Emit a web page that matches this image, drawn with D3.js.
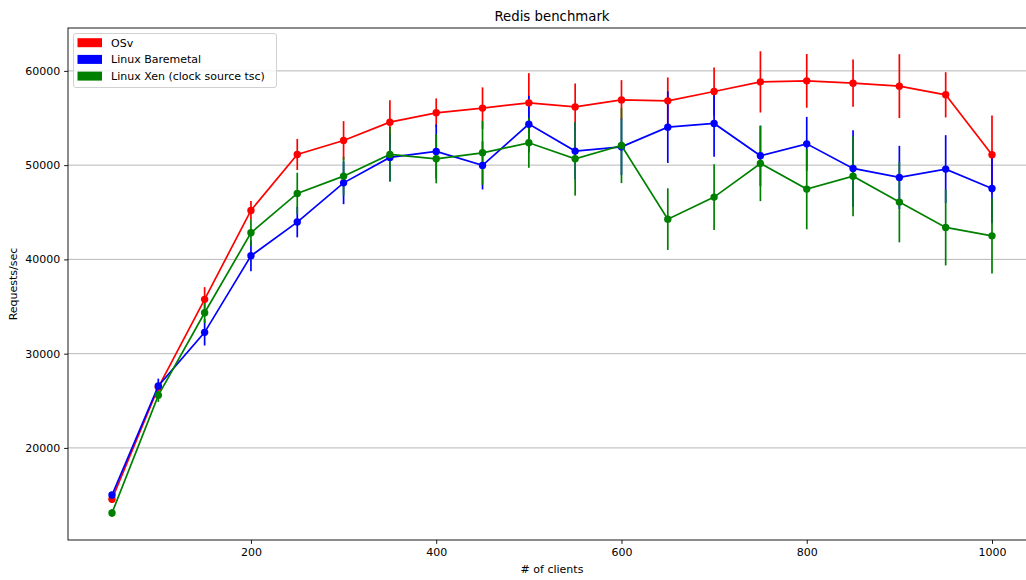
<!DOCTYPE html>
<html>
<head>
<meta charset="utf-8">
<script src="https://cdn.jsdelivr.net/npm/d3@7"></script>
<style>
  body { margin: 0; background: #fff; }
  text { font-family: "DejaVu Sans", sans-serif; fill: #000; }
</style>
</head>
<body>
<div id="d3-container"></div>
<script>
/* CONSTANTS AND GLOBALS */
const width = 1026,
  height = 580,
  margin = { top: 28, bottom: 40, left: 68, right: -10 }; // right spine sits past the picture edge

// x values (# of clients)
const clients = [50, 100, 150, 200, 250, 300, 350, 400, 450, 500,
  550, 600, 650, 700, 750, 800, 850, 900, 950, 1000];

// series means and error bar half-widths (requests/sec)
const osvMean = [14550, 26430, 35760, 45200, 51130, 52620, 54560, 55550, 56050, 56610,
  56180, 56920, 56820, 57810, 58830, 58940, 58700, 58380, 57460, 51100];
const osvErr = [400, 500, 1300, 1000, 1650, 2050, 2330, 1530, 2200, 3150,
  2480, 2100, 2480, 2550, 3250, 2850, 2500, 3390, 2400, 4170];

const bareMean = [15000, 26570, 32260, 40380, 43960, 48120, 50820, 51450, 49970, 54350,
  51490, 51940, 54030, 54420, 50990, 52260, 49650, 48700, 49580, 47530];
const bareErr = [300, 780, 1400, 1630, 1620, 2260, 2500, 2860, 2550, 3000,
  3000, 3000, 3800, 3540, 3200, 2860, 4060, 3350, 3600, 3700];

const xenMean = [13100, 25580, 34340, 42820, 47000, 48830, 51140, 50670, 51310, 52370,
  50670, 52090, 44270, 46610, 50180, 47460, 48830, 46080, 43390, 42500];
const xenErr = [400, 700, 1100, 1400, 2200, 2050, 2900, 2600, 3400, 2650,
  3900, 4000, 3270, 3480, 4000, 4270, 4240, 4270, 4030, 4000];

const seriesNames = ["OSv", "Linux Baremetal", "Linux Xen (clock source tsc)"];
const seriesColors = ["#ff0000", "#0000ff", "#008000"];

const xTicks = [200, 400, 600, 800, 1000];
const yTicks = [20000, 30000, 40000, 50000, 60000];

// build series table from the arrays
const series = [
  { name: seriesNames[0], color: seriesColors[0], mean: osvMean, err: osvErr },
  { name: seriesNames[1], color: seriesColors[1], mean: bareMean, err: bareErr },
  { name: seriesNames[2], color: seriesColors[2], mean: xenMean, err: xenErr }
].map(s => ({
  ...s,
  points: clients.map((c, i) => ({ x: c, y: s.mean[i], e: s.err[i] }))
}));

/* SCALES */
// matplotlib style 5% padding around the data
const xExt = d3.extent(clients);
const xPad = (xExt[1] - xExt[0]) * 0.05;
const allLo = d3.min(series, s => d3.min(s.points, d => d.y - d.e));
const allHi = d3.max(series, s => d3.max(s.points, d => d.y + d.e));
const yPad = (allHi - allLo) * 0.05;

const xScale = d3.scaleLinear()
  .domain([xExt[0] - xPad, xExt[1] + xPad])
  .range([margin.left, width - margin.right]);

const yScale = d3.scaleLinear()
  .domain([allLo - yPad, allHi + yPad])
  .range([height - margin.bottom, margin.top]);

/* SVG */
const svg = d3.select("#d3-container")
  .append("svg")
  .attr("width", width)
  .attr("height", height);

// gridlines (y only)
svg.append("g")
  .selectAll("line")
  .data(yTicks)
  .join("line")
  .attr("x1", margin.left)
  .attr("x2", width - margin.right)
  .attr("y1", d => yScale(d))
  .attr("y2", d => yScale(d))
  .attr("stroke", "#b0b0b0")
  .attr("stroke-width", 0.9);

// + AXES
const xAxis = d3.axisBottom(xScale)
  .tickValues(xTicks)
  .tickFormat(d3.format("d"))
  .tickSize(3.9)
  .tickPadding(3.9)
  .tickSizeOuter(0);

const yAxis = d3.axisLeft(yScale)
  .tickValues(yTicks)
  .tickFormat(d3.format("d"))
  .tickSize(3.9)
  .tickPadding(3.9)
  .tickSizeOuter(0);

const xAxisGroup = svg.append("g")
  .attr("transform", `translate(0, ${height - margin.bottom})`)
  .call(xAxis);

const yAxisGroup = svg.append("g")
  .attr("transform", `translate(${margin.left}, 0)`)
  .call(yAxis);

[xAxisGroup, yAxisGroup].forEach(g => {
  g.select(".domain").remove();
  g.selectAll(".tick line").attr("stroke", "#000").attr("stroke-width", 0.9);
  g.selectAll(".tick text")
    .attr("font-family", "DejaVu Sans")
    .attr("font-size", 11)
    .attr("fill", "#000");
});

// + ERROR BARS (drawn under all the lines, like matplotlib)
series.forEach(s => {
  svg.append("g")
    .selectAll("line")
    .data(s.points)
    .join("line")
    .attr("x1", d => xScale(d.x))
    .attr("x2", d => xScale(d.x))
    .attr("y1", d => yScale(d.y - d.e))
    .attr("y2", d => yScale(d.y + d.e))
    .attr("stroke", s.color)
    .attr("stroke-width", 1.7);
});

// + LINES AND MARKERS
const lineGen = d3.line()
  .x(d => xScale(d.x))
  .y(d => yScale(d.y));

series.forEach(s => {
  const g = svg.append("g");
  g.append("path")
    .datum(s.points)
    .attr("d", lineGen)
    .attr("fill", "none")
    .attr("stroke", s.color)
    .attr("stroke-width", 1.7);
  g.selectAll("circle")
    .data(s.points)
    .join("circle")
    .attr("cx", d => xScale(d.x))
    .attr("cy", d => yScale(d.y))
    .attr("r", 3.7)
    .attr("fill", s.color);
});

// spines (top, left, bottom; the right one falls outside the picture)
svg.append("rect")
  .attr("x", margin.left)
  .attr("y", margin.top)
  .attr("width", width - margin.right - margin.left)
  .attr("height", height - margin.bottom - margin.top)
  .attr("fill", "none")
  .attr("stroke", "#000")
  .attr("stroke-width", 0.9);

// + TITLES
const plotMid = (margin.left + width - margin.right) / 2;

svg.append("text")
  .attr("x", plotMid)
  .attr("y", 21)
  .attr("text-anchor", "middle")
  .attr("font-size", 13.3)
  .text("Redis benchmark");

svg.append("text")
  .attr("x", plotMid)
  .attr("y", 573)
  .attr("text-anchor", "middle")
  .attr("font-size", 11)
  .text("# of clients");

svg.append("text")
  .attr("transform", `translate(17, ${(margin.top + height - margin.bottom) / 2}) rotate(-90)`)
  .attr("text-anchor", "middle")
  .attr("font-size", 11)
  .text("Requests/sec");

// + LEGEND
const legend = svg.append("g").attr("transform", "translate(73.5, 33.5)");

legend.append("rect")
  .attr("width", 203)
  .attr("height", 54)
  .attr("rx", 2.5)
  .attr("fill", "#fff")
  .attr("fill-opacity", 0.8)
  .attr("stroke", "#cccccc")
  .attr("stroke-width", 0.9);

const rows = legend.selectAll(".row")
  .data(series)
  .join("g")
  .attr("class", "row")
  .attr("transform", (d, i) => `translate(0, ${9.2 + i * 16.7})`);

rows.append("rect")
  .attr("x", 4)
  .attr("y", -4.5)
  .attr("width", 24.5)
  .attr("height", 9)
  .attr("fill", d => d.color);

rows.append("text")
  .attr("x", 37.5)
  .attr("y", 4)
  .attr("font-size", 11)
  .text(d => d.name);
</script>
</body>
</html>
